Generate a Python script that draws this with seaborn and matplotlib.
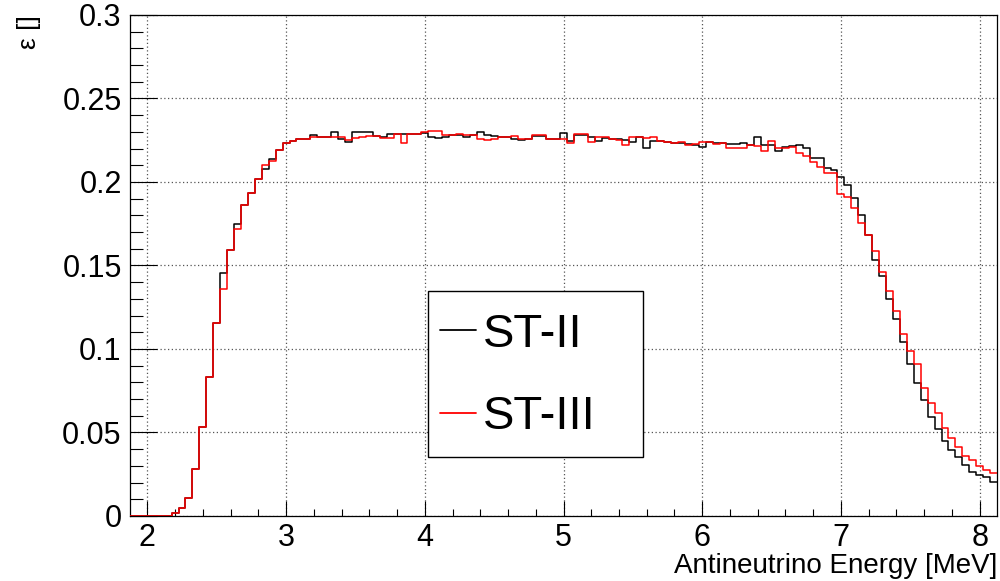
import numpy as np
import pandas as pd
import seaborn as sns
import matplotlib.pyplot as plt
from matplotlib.lines import Line2D
from matplotlib.patches import Rectangle
from matplotlib.ticker import MultipleLocator, FuncFormatter

# Data ------------------------------------------------------------------------
# bin centres 1.90 ... 8.10 MeV, bin width 0.05 MeV
energy = np.round(np.arange(1.90, 8.1001, 0.05), 3)
bin_edges = [round(float(e), 3) for e in np.arange(1.875, 8.1251, 0.05)]

eff_st2 = [
    0, 0, 0, 0, 0, 0,                                          # 1.90-2.15
    0.0016, 0.0046, 0.0110, 0.0280, 0.0533, 0.0834, 0.1154,    # 2.20-2.50
    0.1453, 0.1593, 0.1749, 0.1860, 0.1936, 0.2020, 0.2076,    # 2.55-2.85
    0.2140, 0.2192, 0.2232, 0.2246, 0.2257, 0.2257, 0.2281,    # 2.90-3.20
    0.2267, 0.2267, 0.2301, 0.2257, 0.2241, 0.2297, 0.2297,    # 3.25-3.55
    0.2297, 0.2277, 0.2271, 0.2285, 0.2285, 0.2285, 0.2285,    # 3.60-3.90
    0.2285, 0.2291, 0.2267, 0.2261, 0.2271, 0.2281, 0.2281,    # 3.95-4.25
    0.2267, 0.2281, 0.2297, 0.2281, 0.2277, 0.2267, 0.2271,    # 4.30-4.60
    0.2257, 0.2251, 0.2257, 0.2277, 0.2277, 0.2257, 0.2257,    # 4.65-4.95
    0.2291, 0.2245, 0.2281, 0.2281, 0.2271, 0.2245, 0.2261,    # 5.00-5.30
    0.2257, 0.2257, 0.2251, 0.2241, 0.2271, 0.2202, 0.2245,    # 5.35-5.65
    0.2245, 0.2237, 0.2232, 0.2232, 0.2228, 0.2222, 0.2208,    # 5.70-6.00
    0.2241, 0.2232, 0.2232, 0.2228, 0.2228, 0.2235, 0.2222,    # 6.05-6.35
    0.2272, 0.2222, 0.2222, 0.2188, 0.2208, 0.2216, 0.2222,    # 6.40-6.70
    0.2202, 0.2142, 0.2142, 0.2082, 0.2072, 0.2032, 0.1982,    # 6.75-7.05
    0.1902, 0.1802, 0.1680, 0.1533, 0.1439, 0.1299, 0.1179,    # 7.10-7.40
    0.1040, 0.0910, 0.0798, 0.0695, 0.0595, 0.0519, 0.0451,    # 7.45-7.75
    0.0395, 0.0351, 0.0305, 0.0265, 0.0245, 0.0231, 0.0205,    # 7.80-8.10
]

eff_st3 = [
    0, 0, 0, 0, 0, 0,                                          # 1.90-2.15
    0.0016, 0.0046, 0.0110, 0.0280, 0.0533, 0.0834, 0.1154,    # 2.20-2.50
    0.1359, 0.1593, 0.1719, 0.1860, 0.1936, 0.2020, 0.2102,    # 2.55-2.85
    0.2128, 0.2192, 0.2232, 0.2246, 0.2257, 0.2257, 0.2271,    # 2.90-3.20
    0.2267, 0.2267, 0.2267, 0.2267, 0.2251, 0.2261, 0.2271,    # 3.25-3.55
    0.2275, 0.2277, 0.2261, 0.2261, 0.2285, 0.2232, 0.2285,    # 3.60-3.90
    0.2285, 0.2297, 0.2307, 0.2307, 0.2281, 0.2281, 0.2287,    # 3.95-4.25
    0.2281, 0.2281, 0.2257, 0.2251, 0.2255, 0.2267, 0.2267,    # 4.30-4.60
    0.2277, 0.2257, 0.2257, 0.2281, 0.2281, 0.2257, 0.2257,    # 4.65-4.95
    0.2257, 0.2232, 0.2287, 0.2287, 0.2237, 0.2267, 0.2271,    # 5.00-5.30
    0.2257, 0.2251, 0.2222, 0.2267, 0.2271, 0.2261, 0.2267,    # 5.35-5.65
    0.2245, 0.2241, 0.2232, 0.2237, 0.2222, 0.2228, 0.2237,    # 5.70-6.00
    0.2237, 0.2228, 0.2232, 0.2202, 0.2202, 0.2202, 0.2222,    # 6.05-6.35
    0.2216, 0.2188, 0.2247, 0.2202, 0.2202, 0.2208, 0.2172,    # 6.40-6.70
    0.2156, 0.2122, 0.2092, 0.2052, 0.2052, 0.1928, 0.1912,    # 6.75-7.05
    0.1842, 0.1752, 0.1683, 0.1589, 0.1463, 0.1347, 0.1229,    # 7.10-7.40
    0.1088, 0.0988, 0.0910, 0.0765, 0.0679, 0.0615, 0.0525,    # 7.45-7.75
    0.0465, 0.0415, 0.0359, 0.0335, 0.0299, 0.0275, 0.0255,    # 7.80-8.10
]

labels = ['ST-II', 'ST-III']
colors = ['black', 'red']
x_ticks = [2, 3, 4, 5, 6, 7, 8]
y_ticks = [0, 0.05, 0.1, 0.15, 0.2, 0.25, 0.3]

df = pd.DataFrame({
    'energy': np.concatenate([energy, energy]),
    'eff': eff_st2 + eff_st3,
    'sample': [labels[0]] * len(energy) + [labels[1]] * len(energy),
})

# Style -----------------------------------------------------------------------
sns.set_style('white')
plt.rcParams['font.family'] = ['Liberation Sans', 'DejaVu Sans']
plt.rcParams['text.color'] = 'black'
plt.rcParams['axes.labelcolor'] = 'black'

fig = plt.figure(figsize=(10, 5.81), dpi=100)
ax = fig.add_axes([0.13, 0.112, 0.867, 0.8623])

# Plot ------------------------------------------------------------------------
for lab, col in zip(labels, colors):
    sub = df[df['sample'] == lab]
    sns.histplot(
        x=sub['energy'].to_numpy(), weights=sub['eff'].to_numpy(),
        bins=bin_edges, element='step', fill=False,
        color=col, linewidth=1.1, ax=ax, zorder=3
    )

# Axes ------------------------------------------------------------------------
ax.set_xlim(bin_edges[0], bin_edges[-1])
ax.set_ylim(0, 0.3)
ax.set_xticks(x_ticks)
ax.set_yticks(y_ticks)
ax.xaxis.set_minor_locator(MultipleLocator(0.2))
ax.yaxis.set_minor_locator(MultipleLocator(0.01))
ax.yaxis.set_major_formatter(FuncFormatter(lambda v, p: '%g' % round(v, 3)))
ax.tick_params(axis='both', which='both', direction='in', width=0.8,
               labelsize=22, colors='black', bottom=True, left=True,
               top=False, right=False)
ax.tick_params(axis='y', which='major', length=19.5, pad=6)
ax.tick_params(axis='y', which='minor', length=9.5)
ax.tick_params(axis='x', which='major', length=10.8, pad=5)
ax.tick_params(axis='x', which='minor', length=5.4)
ax.grid(True, which='major', color='#555555', linestyle=(0, (1, 2)),
        linewidth=0.9)
ax.set_axisbelow(True)
for sp in ax.spines.values():
    sp.set_color('black')
    sp.set_linewidth(0.9)

ax.set_xlabel('Antineutrino Energy [MeV]', fontsize=20, ha='right',
              va='baseline')
ax.xaxis.set_label_coords(1.0, -0.114)
ax.set_ylabel('ε []', fontsize=19, ha='right', va='center')
ax.yaxis.set_label_coords(-0.116, 1.0)

# Legend ----------------------------------------------------------------------
(lx, ly, lw, lh) = (0.344, 0.118, 0.248, 0.331)
ax.add_patch(Rectangle((lx, ly), lw, lh, transform=ax.transAxes,
                       facecolor='white', edgecolor='black', linewidth=1,
                       zorder=5))
handles = [Line2D([], [], color=c, linewidth=1.3) for c in colors]
leg = ax.legend(handles, labels, loc='center left',
                bbox_to_anchor=(lx + 0.003, ly + lh / 2 - 0.004),
                frameon=False, fontsize=34, handlelength=0.75,
                handletextpad=0.15, labelspacing=0.82, borderaxespad=0,
                borderpad=0.2)
leg.set_zorder(6)

fig.savefig('out.png', dpi=100)
